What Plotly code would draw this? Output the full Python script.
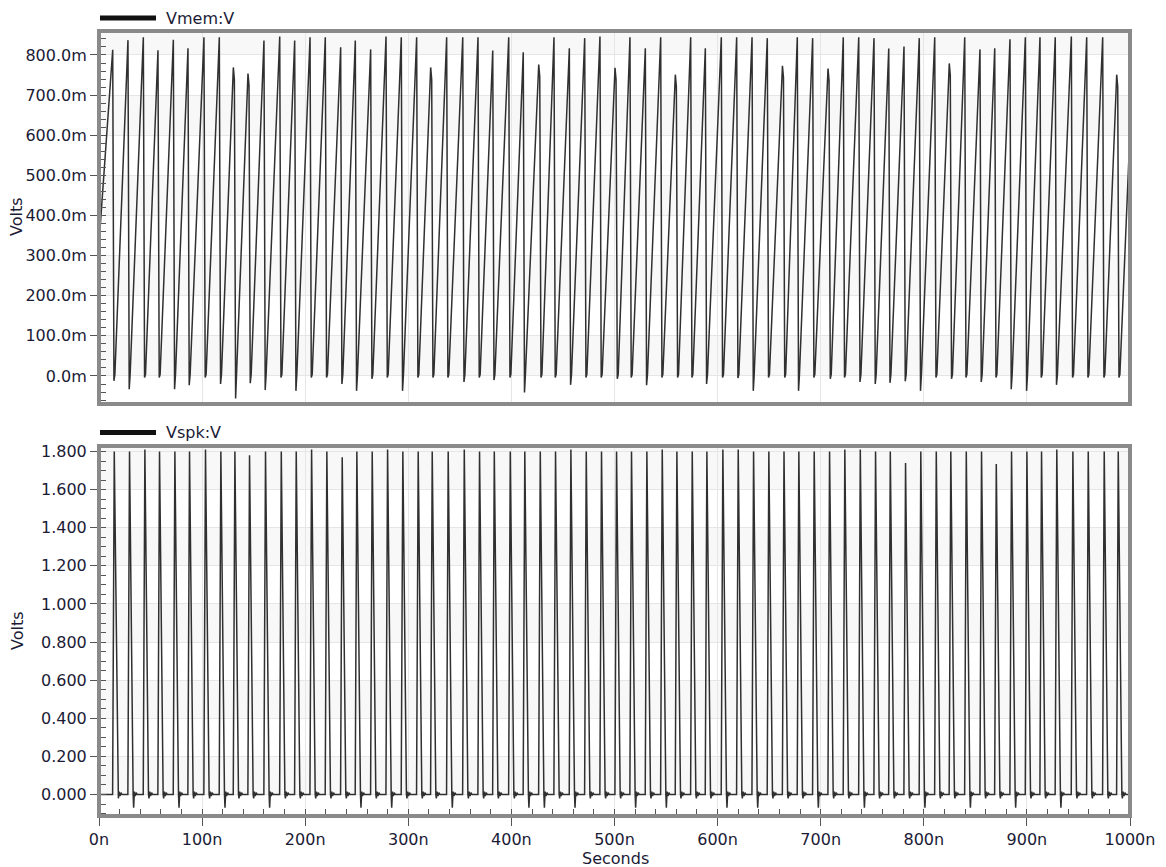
import plotly.graph_objects as go
from plotly.subplots import make_subplots

# ---------------- data ----------------
# spike (Vmem peak) times, ns
t_peak = [13.3, 28.1, 43.0, 57.2, 72.1, 86.3, 101.8, 116.7, 130.3, 144.5,
          160.0, 175.3, 189.8, 204.7, 219.5, 234.4, 248.6, 263.5, 278.4, 293.2,
          308.1, 321.7, 337.2, 352.8, 367.6, 381.9, 397.4, 411.5, 426.5, 441.3,
          456.2, 471.1, 485.9, 500.5, 515.0, 529.9, 544.8, 559.0, 573.9, 588.1,
          603.6, 618.5, 633.4, 648.2, 662.9, 677.3, 692.2, 707.1, 721.9, 736.9,
          751.7, 766.0, 780.8, 795.6, 810.6, 824.7, 839.7, 854.5, 868.8, 883.6,
          898.5, 912.7, 927.5, 943.1, 958.0, 973.5, 987.1]
# Vmem peak values, V
vmem_peak = [0.813, 0.837, 0.844, 0.812, 0.838, 0.817, 0.844, 0.844, 0.769, 0.754,
             0.836, 0.846, 0.836, 0.844, 0.844, 0.819, 0.836, 0.814, 0.846, 0.844,
             0.844, 0.769, 0.844, 0.844, 0.844, 0.811, 0.844, 0.807, 0.776, 0.844,
             0.817, 0.842, 0.846, 0.768, 0.844, 0.817, 0.844, 0.751, 0.844, 0.817,
             0.844, 0.844, 0.844, 0.842, 0.773, 0.844, 0.842, 0.766, 0.844, 0.844,
             0.842, 0.816, 0.821, 0.842, 0.844, 0.779, 0.844, 0.814, 0.817, 0.839,
             0.844, 0.844, 0.844, 0.846, 0.844, 0.844, 0.751]
# Vmem undershoot after each reset, V
vmem_dip = [-0.012, -0.033, -0.004, -0.004, -0.033, -0.023, -0.004, -0.020, -0.056, -0.018,
            -0.035, -0.004, -0.037, -0.004, -0.004, -0.020, -0.037, -0.007, -0.004, -0.037,
            -0.004, -0.004, -0.004, -0.015, -0.004, -0.010, -0.004, -0.041, -0.004, -0.004,
            -0.022, -0.004, -0.004, -0.007, -0.004, -0.023, -0.004, -0.004, -0.004, -0.020,
            -0.004, -0.005, -0.037, -0.004, -0.004, -0.037, -0.004, -0.007, -0.004, -0.015,
            -0.020, -0.017, -0.013, -0.037, -0.004, -0.007, -0.004, -0.015, -0.004, -0.033,
            -0.037, -0.004, -0.022, -0.004, -0.004, -0.004, -0.004]
vmem_start = 0.33
vmem_end = 0.61

# Vspk peak values, V
vspk_peak = [1.80, 1.80, 1.81, 1.80, 1.80, 1.80, 1.81, 1.80, 1.80, 1.78,
             1.80, 1.80, 1.80, 1.81, 1.80, 1.77, 1.80, 1.80, 1.81, 1.80,
             1.80, 1.80, 1.80, 1.81, 1.80, 1.80, 1.80, 1.80, 1.80, 1.80,
             1.81, 1.80, 1.80, 1.80, 1.80, 1.80, 1.81, 1.80, 1.80, 1.80,
             1.81, 1.81, 1.80, 1.80, 1.80, 1.80, 1.80, 1.80, 1.81, 1.81,
             1.80, 1.80, 1.74, 1.80, 1.80, 1.80, 1.80, 1.80, 1.735, 1.80,
             1.80, 1.80, 1.81, 1.80, 1.80, 1.80, 1.80]
# Vspk undershoot after each spike, V
vspk_dip = [-0.02, -0.07, -0.02, -0.02, -0.07, -0.02, -0.02, -0.07, -0.02, -0.02,
            -0.07, -0.02, -0.02, -0.02, -0.02, -0.02, -0.07, -0.02, -0.07, -0.02,
            -0.02, -0.02, -0.07, -0.02, -0.02, -0.02, -0.02, -0.07, -0.07, -0.02,
            -0.07, -0.02, -0.02, -0.02, -0.07, -0.02, -0.07, -0.02, -0.02, -0.02,
            -0.07, -0.02, -0.07, -0.02, -0.02, -0.02, -0.07, -0.02, -0.02, -0.07,
            -0.02, -0.02, -0.02, -0.07, -0.02, -0.02, -0.07, -0.02, -0.02, -0.07,
            -0.02, -0.02, -0.07, -0.02, -0.02, -0.02, -0.02]

x_ticks = [0, 100, 200, 300, 400, 500, 600, 700, 800, 900, 1000]
x_ticktext = ["0n", "100n", "200n", "300n", "400n", "500n", "600n", "700n", "800n", "900n", "1000n"]
vmem_ticks = [0.0, 0.1, 0.2, 0.3, 0.4, 0.5, 0.6, 0.7, 0.8]
vmem_ticktext = ["0.0m", "100.0m", "200.0m", "300.0m", "400.0m", "500.0m", "600.0m", "700.0m", "800.0m"]
vspk_ticks = [0.0, 0.2, 0.4, 0.6, 0.8, 1.0, 1.2, 1.4, 1.6, 1.8]
vspk_ticktext = ["0.000", "0.200", "0.400", "0.600", "0.800", "1.000", "1.200", "1.400", "1.600", "1.800"]

# ---------------- build waveforms from the key values ----------------
tm, vm = [0.0], [vmem_start]
for tp, pk, dp in zip(t_peak, vmem_peak, vmem_dip):
    tm.append(tp); vm.append(pk)
    if pk < 0.8:
        tm.append(tp + 1.0); vm.append(pk - 0.03)
        tf = tp + 2.2
    else:
        tf = tp + 1.2
    tm.append(tf); vm.append(dp)
    tm.append(tf + 0.9); vm.append(0.004)
tm.append(1000.0); vm.append(vmem_end)

ts, vs = [0.0], [0.0]
for tp, pk, dp in zip(t_peak, vspk_peak, vspk_dip):
    ts += [tp - 0.1, tp + 1.5, tp + 5.0, tp + 5.5, tp + 6.2, tp + 7.1, tp + 8.0, tp + 9.0]
    vs += [0.0, pk, 0.0, dp, 0.015, -0.008, 0.010, 0.0]
ts.append(1000.0); vs.append(0.0)

# ---------------- figure ----------------
W, H = 1166, 867
ML, MR, MT, MB = 99, 36, 31, 51
PW, PH = W - ML - MR, H - MT - MB
def px(xp):
    return (xp - ML) / PW
def py(yp):
    return (H - MB - yp) / PH

top_dom = [py(404), 1.0]
bot_dom = [0.0, py(446)]

FONT = "DejaVu Sans"
TXT = "#1b1b36"
LINE = "#303030"

fig = make_subplots(rows=2, cols=1, shared_xaxes=False)
fig.add_trace(go.Scatter(x=tm, y=vm, mode="lines", line=dict(color=LINE, width=1.5),
                         showlegend=False, hoverinfo="skip"), row=1, col=1)
fig.add_trace(go.Scatter(x=ts, y=vs, mode="lines", line=dict(color=LINE, width=1.5),
                         showlegend=False, hoverinfo="skip"), row=2, col=1)

top_range = [-0.0698, 0.8598]
bot_range = [-0.1128, 1.8289]

fig.update_layout(
    width=W, height=H,
    margin=dict(l=ML, r=MR, t=MT, b=MB),
    paper_bgcolor="white", plot_bgcolor="white",
    font=dict(family=FONT, size=16, color=TXT),
    xaxis=dict(domain=[0, 1], range=[0, 1000], tickvals=x_ticks, showticklabels=False,
               ticks="", showgrid=True, gridcolor="#e6e6e6", gridwidth=1, zeroline=False,
               showline=False, anchor="y"),
    yaxis=dict(domain=top_dom, range=top_range, tickvals=vmem_ticks, ticktext=vmem_ticktext,
               ticks="outside", ticklen=8, tickcolor="#555555", tickwidth=1,
               showgrid=True, gridcolor="#e6e6e6", zeroline=False, showline=False,
               minor=dict(dtick=0.02, tick0=0, ticks="inside", ticklen=7, tickcolor="#555555",
                          showgrid=False),
               tickfont=dict(size=16, color=TXT), anchor="x"),
    xaxis2=dict(domain=[0, 1], range=[0, 1000], tickvals=x_ticks, ticktext=x_ticktext,
                ticks="outside", ticklen=9, tickcolor="#555555", tickwidth=1,
                showgrid=True, gridcolor="#e6e6e6", zeroline=False, showline=False,
                minor=dict(dtick=20, tick0=0, ticks="inside", ticklen=7, tickcolor="#555555",
                           showgrid=False),
                tickfont=dict(size=16, color=TXT), anchor="y2"),
    yaxis2=dict(domain=bot_dom, range=bot_range, tickvals=vspk_ticks, ticktext=vspk_ticktext,
                ticks="outside", ticklen=8, tickcolor="#555555", tickwidth=1,
                showgrid=True, gridcolor="#e6e6e6", zeroline=False, showline=False,
                minor=dict(dtick=0.05, tick0=0, ticks="inside", ticklen=7, tickcolor="#555555",
                           showgrid=False),
                tickfont=dict(size=16, color=TXT), anchor="x2"),
)

shapes = []
# faint alternating background bands
for lo, hi in [(0.0, 0.1), (0.2, 0.3), (0.4, 0.5), (0.6, 0.7), (0.8, top_range[1])]:
    shapes.append(dict(type="rect", xref="x domain", yref="y", x0=0, x1=1, y0=lo, y1=hi,
                       fillcolor="#f8f8f8", line=dict(width=0), layer="below"))
for lo, hi in [(0.0, 0.2), (0.4, 0.6), (0.8, 1.0), (1.2, 1.4), (1.6, bot_range[1])]:
    shapes.append(dict(type="rect", xref="x2 domain", yref="y2", x0=0, x1=1, y0=lo, y1=hi,
                       fillcolor="#f8f8f8", line=dict(width=0), layer="below"))
# thick gray frames
for xr, yr in [("x domain", "y domain"), ("x2 domain", "y2 domain")]:
    shapes.append(dict(type="rect", xref=xr, yref=yr, x0=0, x1=1, y0=0, y1=1,
                       line=dict(color="#8a8a8a", width=4), fillcolor="rgba(0,0,0,0)",
                       layer="above"))
# legend line samples
for ly in [18, 432.5]:
    shapes.append(dict(type="line", xref="paper", yref="paper", x0=px(100), x1=px(156),
                       y0=py(ly), y1=py(ly), line=dict(color="#111111", width=5)))
fig.update_layout(shapes=shapes)

ann = []
ann.append(dict(text="Vmem:V", xref="paper", yref="paper", x=px(164), y=py(18),
                xanchor="left", yanchor="middle", showarrow=False, font=dict(size=16, color=TXT)))
ann.append(dict(text="Vspk:V", xref="paper", yref="paper", x=px(164), y=py(432.5),
                xanchor="left", yanchor="middle", showarrow=False, font=dict(size=16, color=TXT)))
ann.append(dict(text="Volts", xref="paper", yref="paper", x=px(17), y=py(217),
                xanchor="center", yanchor="middle", textangle=-90, showarrow=False,
                font=dict(size=16, color=TXT)))
ann.append(dict(text="Volts", xref="paper", yref="paper", x=px(17), y=py(631),
                xanchor="center", yanchor="middle", textangle=-90, showarrow=False,
                font=dict(size=16, color=TXT)))
ann.append(dict(text="Seconds", xref="paper", yref="paper", x=px(615), y=py(858),
                xanchor="center", yanchor="middle", showarrow=False,
                font=dict(size=16, color=TXT)))
fig.update_layout(annotations=ann)

fig.write_html("out.html", config={"displayModeBar": False},
               post_script="document.body.style.margin='0';document.body.style.padding='0';")
